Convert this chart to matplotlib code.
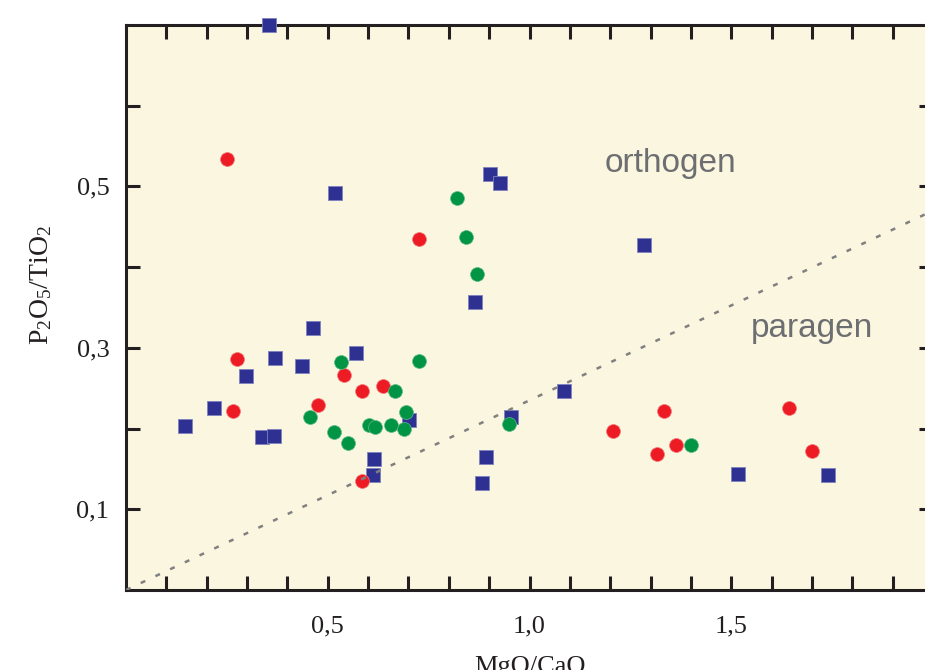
import matplotlib
matplotlib.use("Agg")
import matplotlib.pyplot as plt

plt.rcParams['font.family'] = ['Liberation Serif', 'DejaVu Serif']
plt.rcParams['mathtext.fontset'] = 'custom'
plt.rcParams['mathtext.rm'] = 'Liberation Serif'

# MgO/CaO vs P2O5/TiO2
blue_x = [0.354, 0.518, 0.901, 0.927, 1.284, 0.866, 0.463, 0.571, 0.370, 0.437,
          0.297, 0.219, 0.147, 0.336, 0.366, 0.701, 0.614, 0.613, 0.955, 0.893,
          0.883, 1.085, 1.517, 1.740]
blue_y = [0.700, 0.492, 0.5155, 0.504, 0.428, 0.357, 0.324, 0.294, 0.288, 0.278,
          0.265, 0.226, 0.203, 0.190, 0.191, 0.211, 0.162, 0.143, 0.214, 0.165,
          0.133, 0.246, 0.144, 0.1425]

red_x = [0.250, 0.726, 0.274, 0.265, 0.540, 0.584, 0.636, 0.476, 0.585, 1.207,
         1.333, 1.315, 1.363, 1.643, 1.701]
red_y = [0.534, 0.435, 0.286, 0.222, 0.266, 0.246, 0.253, 0.229, 0.135, 0.1975,
         0.222, 0.169, 0.180, 0.225, 0.172]

green_x = [0.821, 0.843, 0.870, 0.727, 0.532, 0.667, 0.455, 0.693, 0.516, 0.550,
           0.603, 0.616, 0.656, 0.688, 0.950, 1.401]
green_y = [0.486, 0.437, 0.391, 0.284, 0.283, 0.246, 0.214, 0.221, 0.196, 0.182,
           0.205, 0.202, 0.204, 0.200, 0.206, 0.180]

# orthogen / paragen boundary
line_x = [0.0, 2.0]
line_y = [0.0, 0.47]

x_ticks = [0.1, 0.2, 0.3, 0.4, 0.5, 0.6, 0.7, 0.8, 0.9, 1.0,
           1.1, 1.2, 1.3, 1.4, 1.5, 1.6, 1.7, 1.8, 1.9]
x_labels = ['', '', '', '', '0,5', '', '', '', '', '1,0',
            '', '', '', '', '1,5', '', '', '', '']
y_ticks = [0.1, 0.2, 0.3, 0.4, 0.5, 0.6]
y_labels = ['0,1', '', '0,3', '', '0,5', '']

ink = '#231f20'

fig = plt.figure(figsize=(9.25, 6.7), dpi=100)
ax = fig.add_axes([126 / 925, 80 / 670, 807 / 925, 565 / 670])
ax.set_facecolor('#faf6df')

ax.plot(blue_x, blue_y, 's', ms=10, color='#2e3192', mec='#7f82c0', mew=0.6,
        clip_on=False, zorder=3)
ax.plot(red_x, red_y, 'o', ms=10, color='#ed1c24', mec='#f27a7e', mew=0.5, zorder=4)
ax.plot(green_x, green_y, 'o', ms=10, color='#009444', mec='#5fba85', mew=0.5, zorder=5)
ax.plot(line_x, line_y, color='#808080', lw=1.8, dashes=(2, 4.5), zorder=6)

ax.text(1.349, 0.528, 'orthogen', family='Liberation Sans', fontsize=24,
        color='#6d6e71', ha='center', va='center')
ax.text(1.701, 0.324, 'paragen', family='Liberation Sans', fontsize=24,
        color='#6d6e71', ha='center', va='center')

ax.set_xlim(0, 2.0)
ax.set_ylim(0, 0.7)
ax.set_xticks(x_ticks)
ax.set_xticklabels(x_labels)
ax.set_yticks(y_ticks)
ax.set_yticklabels(y_labels)
ax.tick_params(direction='in', length=10, width=2.2, color=ink, labelcolor=ink,
               labelsize=19, pad=12, top=True, right=True)
ax.tick_params(axis='x', pad=18)
for s in ax.spines.values():
    s.set_linewidth(2.2)
    s.set_color(ink)

ax.set_xlabel('MgO/CaO', fontsize=19, color=ink, labelpad=14)
fig.text(41 / 925, 1 - 285 / 670, r'$\mathrm{P_2O_5/TiO_2}$', fontsize=20,
         color=ink, rotation=90, ha='center', va='center')

fig.savefig('out.png', dpi=100)
